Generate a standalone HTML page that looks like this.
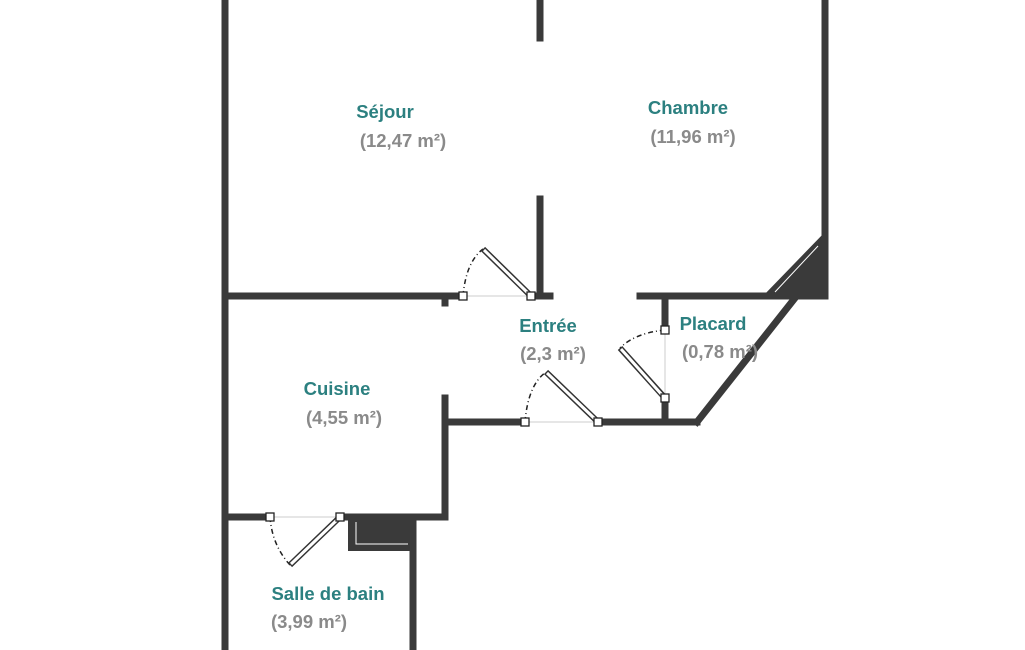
<!DOCTYPE html>
<html><head><meta charset="utf-8"><style>
html,body{margin:0;padding:0;background:#fff;width:1025px;height:650px;overflow:hidden}
svg{display:block}
.n{font:bold 18.5px "Liberation Sans",sans-serif;fill:#2c8080}
.a{font:bold 18.5px "Liberation Sans",sans-serif;fill:#8a8a8a}
</style></head><body>
<svg width="1025" height="650" viewBox="0 0 1025 650">
<g stroke="#3a3a3a" stroke-width="7" fill="none" stroke-linecap="square">
<line x1="225" y1="0" x2="225" y2="650"/>
<line x1="825" y1="0" x2="825" y2="296"/>
<line x1="540" y1="0" x2="540" y2="38"/>
<line x1="540" y1="199" x2="540" y2="296"/>
<line x1="225" y1="296" x2="460" y2="296"/>
<line x1="531" y1="296" x2="550" y2="296"/>
<line x1="640" y1="296" x2="825" y2="296"/>
<line x1="795" y1="298" x2="697" y2="422"/>
<line x1="665" y1="296" x2="665" y2="330"/>
<line x1="665" y1="398" x2="665" y2="422"/>
<line x1="445" y1="422" x2="525" y2="422"/>
<line x1="598" y1="422" x2="697" y2="422"/>
<line x1="445" y1="398" x2="445" y2="517"/>
<line x1="225" y1="517" x2="270" y2="517"/>
<line x1="340" y1="517" x2="445" y2="517"/>
<line x1="413" y1="517" x2="413" y2="650"/>
<line x1="445" y1="296" x2="445" y2="303"/>
</g>
<polygon points="760,299 825,232 828,299" fill="#3a3a3a"/>
<line x1="775" y1="292" x2="818" y2="246" stroke="#fff" stroke-width="1"/>
<rect x="348" y="518" width="65" height="33" fill="#3a3a3a"/>
<polyline points="356,522 356,544 408,544" fill="none" stroke="#fff" stroke-width="1"/>
<g stroke="#ccc" stroke-width="1">
<line x1="463" y1="296" x2="531" y2="296"/>
<line x1="525" y1="422" x2="598" y2="422"/>
<line x1="665" y1="330" x2="665" y2="398"/>
<line x1="270" y1="517" x2="340" y2="517"/>
</g>
<g stroke="#222" stroke-width="1.5" fill="none" stroke-dasharray="5,3,1,3">
<path d="M463 296 Q466 262 483 249"/>
<path d="M525 422 Q528 385 546 372"/>
<path d="M665 330 Q635 333 620 348"/>
<path d="M270 517 Q272 545 290 565"/>
</g>
<g stroke="#333" stroke-width="6" stroke-linecap="butt">
<line x1="531" y1="296" x2="483" y2="249"/>
<line x1="598" y1="422" x2="546" y2="372"/>
<line x1="665" y1="398" x2="620" y2="348"/>
<line x1="340" y1="517" x2="290" y2="565"/>
</g>
<g stroke="#fff" stroke-width="3" stroke-linecap="butt">
<line x1="529" y1="294" x2="484" y2="250"/>
<line x1="596" y1="420" x2="547" y2="373"/>
<line x1="663" y1="396" x2="621" y2="349"/>
<line x1="338" y1="519" x2="291" y2="564"/>
</g>
<g fill="#fff" stroke="#222" stroke-width="1.3">
<rect x="459" y="292" width="8" height="8"/><rect x="527" y="292" width="8" height="8"/>
<rect x="521" y="418" width="8" height="8"/><rect x="594" y="418" width="8" height="8"/>
<rect x="661" y="326" width="8" height="8"/><rect x="661" y="394" width="8" height="8"/>
<rect x="266" y="513" width="8" height="8"/><rect x="336" y="513" width="8" height="8"/>
</g>
<text class="n" x="385" y="118" text-anchor="middle">Séjour</text>
<text class="a" x="403" y="147" text-anchor="middle">(12,47 m²)</text>
<text class="n" x="688" y="114" text-anchor="middle">Chambre</text>
<text class="a" x="693" y="143" text-anchor="middle">(11,96 m²)</text>
<text class="n" x="548" y="332" text-anchor="middle">Entrée</text>
<text class="a" x="553" y="360" text-anchor="middle">(2,3 m²)</text>
<text class="n" x="713" y="330" text-anchor="middle">Placard</text>
<text class="a" x="720" y="358" text-anchor="middle">(0,78 m²)</text>
<text class="n" x="337" y="395" text-anchor="middle">Cuisine</text>
<text class="a" x="344" y="424" text-anchor="middle">(4,55 m²)</text>
<text class="n" x="328" y="600" text-anchor="middle">Salle de bain</text>
<text class="a" x="309" y="628" text-anchor="middle">(3,99 m²)</text>
</svg>
</body></html>
